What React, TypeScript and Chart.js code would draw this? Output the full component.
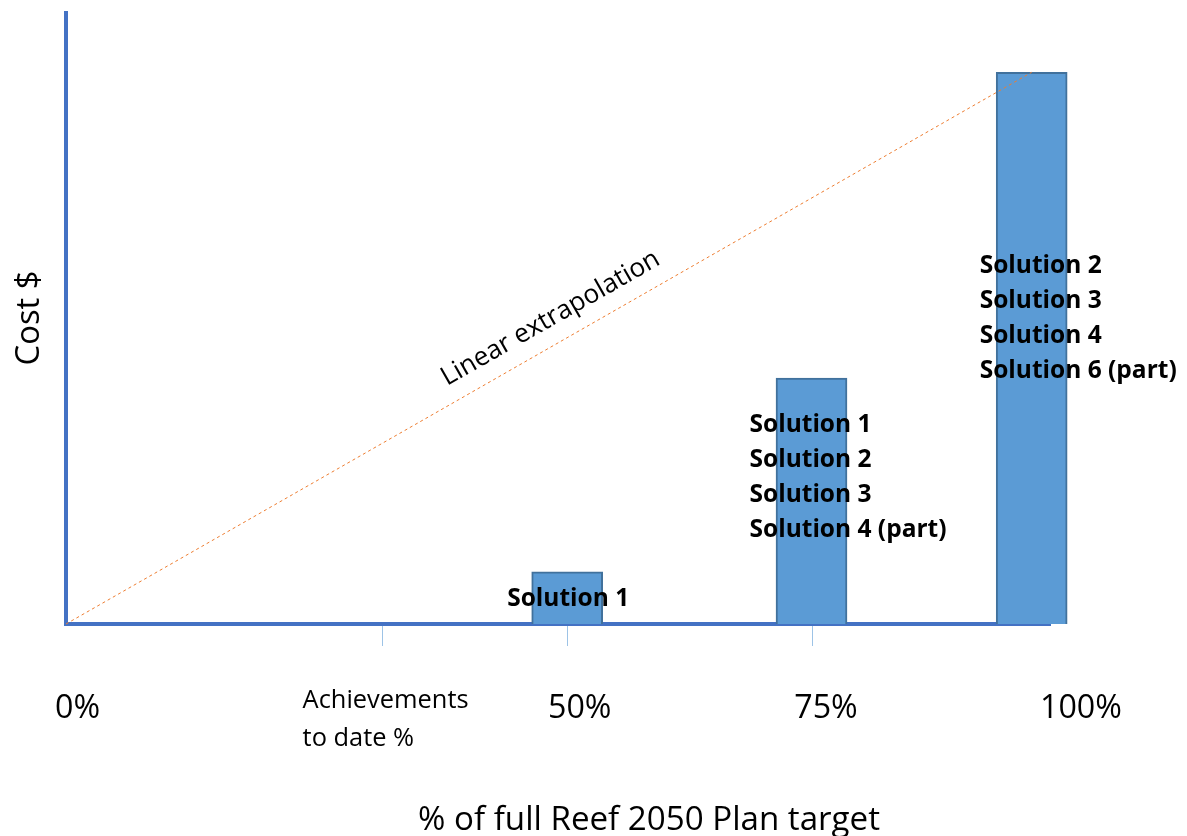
import React, { useEffect, useRef } from "react";
import { Chart, registerables } from "chart.js";
Chart.register(...registerables);

// ---- data ----
const barPositions = [51.9, 77.2, 100];
const barCosts = [8.5, 40.1, 90];
const barLabels = [
  ["Solution 1"],
  ["Solution 1", "Solution 2", "Solution 3", "Solution 4 (part)"],
  ["Solution 2", "Solution 3", "Solution 4", "Solution 6 (part)"],
];
const extrapolationX = [0, 100];
const extrapolationY = [0, 90];
const tickMarkPositions = [32.7, 51.9, 77.2];
const xLabelTexts = ["0%", "50%", "75%", "100%"];
const xLabelPositions = [1.2, 53.2, 78.7, 105.1];
const achievementsLabel = ["Achievements", "to date %"];
const achievementsPosition = 24.5;
const xTitle = "% of full Reef 2050 Plan target";
const yTitle = "Cost $";
const lineLabel = "Linear extrapolation";

const FONT = "'Open Sans', Lato, sans-serif";
const AXIS_BLUE = "#4472C4";

// pick a font size so that `sample` is `width` px wide
function fit(ctx: any, weight: string, sample: string, width: number) {
  ctx.font = `${weight} 20px ${FONT}`;
  const w = ctx.measureText(sample).width;
  const size = (20 * width) / w;
  return `${weight} ${size.toFixed(2)}px ${FONT}`;
}

const overlay = {
  id: "overlay",
  beforeDatasetsDraw(chart: any) {
    const { ctx, chartArea, scales } = chart;
    const x = scales.x;
    ctx.save();
    ctx.strokeStyle = "#9DC3E6";
    ctx.lineWidth = 1;
    tickMarkPositions.forEach((v) => {
      const px = Math.round(x.getPixelForValue(v)) + 0.5;
      ctx.beginPath();
      ctx.moveTo(px, chartArea.bottom);
      ctx.lineTo(px, chartArea.bottom + 22);
      ctx.stroke();
    });
    ctx.strokeStyle = AXIS_BLUE;
    ctx.lineWidth = 4;
    ctx.beginPath();
    ctx.moveTo(chartArea.left, chartArea.top);
    ctx.lineTo(chartArea.left, chartArea.bottom + 2);
    ctx.stroke();
    ctx.beginPath();
    ctx.moveTo(chartArea.left, chartArea.bottom);
    ctx.lineTo(chartArea.right, chartArea.bottom);
    ctx.stroke();
    ctx.restore();
  },
  afterDatasetsDraw(chart: any) {
    const { ctx, chartArea, scales } = chart;
    const x = scales.x, y = scales.y;
    ctx.save();
    ctx.fillStyle = "#000";
    ctx.textBaseline = "middle";
    // bar annotations
    ctx.font = fit(ctx, "bold", "Solution 4 (part)", 197);
    const lineH = 35;
    barPositions.forEach((p, i) => {
      const cx = x.getPixelForValue(p);
      const top = y.getPixelForValue(barCosts[i]);
      const lines = barLabels[i];
      if (i === 0) {
        ctx.textAlign = "center";
        ctx.fillText(lines[0], cx + 1, (top + y.getPixelForValue(0)) / 2 + 1);
      } else {
        ctx.textAlign = "left";
        const left = i === 1 ? cx - 62 : cx - 52;
        const first = i === 1 ? top + 47 : top + 194;
        lines.forEach((t, j) => ctx.fillText(t, left, first + j * lineH));
      }
    });
    // x labels
    ctx.textAlign = "center";
    ctx.font = fit(ctx, "normal", "100%", 82);
    xLabelTexts.forEach((t, i) => {
      ctx.fillText(t, x.getPixelForValue(xLabelPositions[i]), chartArea.bottom + 85);
    });
    ctx.textAlign = "left";
    ctx.font = fit(ctx, "normal", "Achievements", 166);
    achievementsLabel.forEach((t, j) => {
      ctx.fillText(t, x.getPixelForValue(achievementsPosition), chartArea.bottom + 77 + j * 38);
    });
    // x title
    ctx.textAlign = "center";
    ctx.font = fit(ctx, "normal", xTitle, 462);
    ctx.fillText(xTitle, 649, chartArea.bottom + 197);
    // y title
    ctx.save();
    ctx.translate(30, 318);
    ctx.rotate(-Math.PI / 2);
    ctx.font = fit(ctx, "normal", yTitle, 95);
    ctx.fillText(yTitle, 0, 0);
    ctx.restore();
    // line label
    const x0 = x.getPixelForValue(extrapolationX[0]);
    const y0 = y.getPixelForValue(extrapolationY[0]);
    const x1 = x.getPixelForValue(extrapolationX[1]);
    const y1 = y.getPixelForValue(extrapolationY[1]);
    const ang = Math.atan2(y1 - y0, x1 - x0);
    const mx = 563, my = y0 + (mx - x0) * (y1 - y0) / (x1 - x0);
    ctx.save();
    ctx.translate(mx, my);
    ctx.rotate(ang);
    ctx.font = fit(ctx, "normal", lineLabel, 247);
    ctx.textAlign = "center";
    ctx.fillText(lineLabel, 0, -25);
    ctx.restore();
    ctx.restore();
  },
};

export default function App() {
  const ref = useRef<HTMLCanvasElement>(null);
  useEffect(() => {
    if (!ref.current) return;
    const chart = new Chart(ref.current, {
      type: "bar",
      data: {
        datasets: [
          {
            type: "line",
            data: extrapolationX.map((v, i) => ({ x: v, y: extrapolationY[i] })),
            borderColor: "#ED7D31",
            borderWidth: 1,
            borderDash: [3, 3],
            pointRadius: 0,
            fill: false,
            order: 0,
            clip: false as any,
          } as any,
          {
            type: "bar",
            data: barPositions.map((v, i) => ({ x: v, y: barCosts[i] })),
            backgroundColor: "#5B9BD5",
            borderColor: "#41719C",
            borderWidth: 2,
            barThickness: 71,
            order: 1,
            clip: false as any,
          } as any,
        ],
      },
      options: {
        responsive: false,
        animation: false,
        layout: { padding: { left: 66, right: 136, top: 11, bottom: 212 } },
        plugins: { legend: { display: false }, tooltip: { enabled: false } },
        scales: {
          x: { type: "linear", min: 0, max: 102, offset: false, display: false },
          y: { type: "linear", min: 0, max: 100, display: false },
        },
      },
      plugins: [overlay],
    });
    return () => chart.destroy();
  }, []);
  return (
    <div style={{ position: "fixed", left: 0, top: 0, width: 1187, height: 836, background: "#fff" }}>
      <canvas ref={ref} width={1187} height={836} style={{ width: 1187, height: 836 }} />
    </div>
  );
}
